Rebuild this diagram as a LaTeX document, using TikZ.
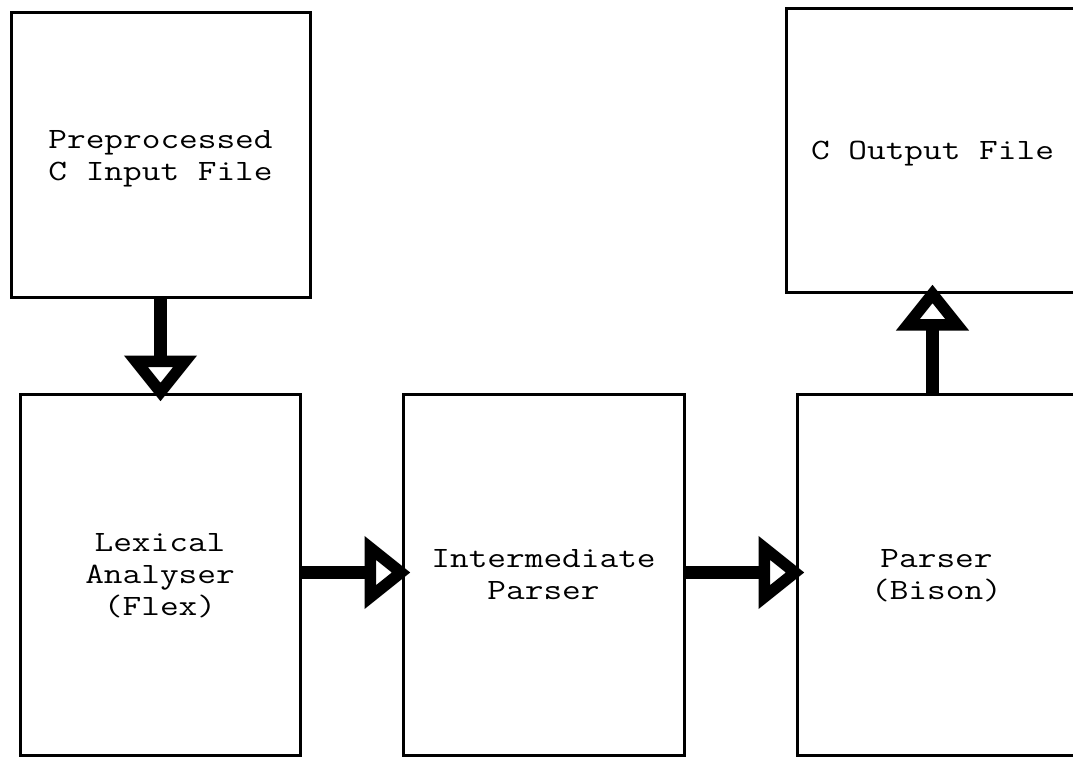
\documentclass[tikz,border=0pt]{standalone}
\usepackage{fontspec}
\newfontfamily\stagefont[FakeStretch=1.23]{Latin Modern Mono}
\usetikzlibrary{arrows.meta}
\begin{document}
\begin{tikzpicture}[x=1pt,y=-1pt,
  stage/.style={draw, line width=3pt, inner sep=0pt, align=center,
    text depth=0pt, font=\stagefont\fontsize{29.5}{32}\selectfont},
  flow/.style={line width=12.5pt, shorten >=-9pt,
    -{Triangle[open,length=46pt,width=70pt]}}]
  \clip (0,0) rectangle (1073,757);
  \fill[white] (0,0) rectangle (1073,757);

  % stages of the translator
  \node[stage, minimum width=299pt, minimum height=284pt] (pre) at (160.5,155)
    {Preprocessed\\C Input File};
  \node[stage, minimum width=293pt, minimum height=283pt] (cout) at (932.5,150.5)
    {C Output File};
  \node[stage, minimum width=280pt, minimum height=361pt] (lex) at (160,574.5)
    {Lexical\\Analyser\\(Flex)};
  \node[stage, minimum width=281pt, minimum height=361pt] (inter) at (543.5,574.5)
    {Intermediate\\Parser};
  \node[stage, minimum width=279pt, minimum height=361pt] (bison) at (936.5,574.5)
    {Parser\\(Bison)};

  % data flow between the stages
  \draw[flow] (pre.south) -- (pre.south |- lex.north);
  \draw[flow] ([yshift=2pt]lex.east) -- ([yshift=2pt]inter.west);
  \draw[flow] ([yshift=2pt]inter.east) -- ([yshift=2pt]bison.west);
  \draw[flow] (cout.south |- bison.north) -- (cout.south);
\end{tikzpicture}
\end{document}
